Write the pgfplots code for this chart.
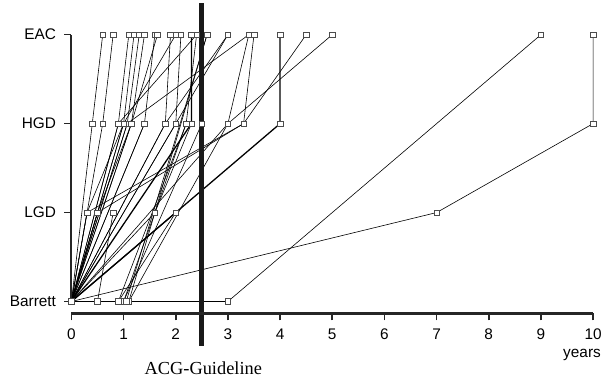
\documentclass[border=0pt]{standalone}
\usepackage{fontspec}
\setmainfont{Liberation Sans}
\newfontfamily\seriffont{Liberation Serif}
\usepackage{pgfplots}
\pgfplotsset{compat=1.18}
\begin{document}
\begin{tikzpicture}[x=1pt,y=1pt]
\begin{axis}[
 at={(0,0)}, anchor=south west,
 scale only axis, width=526pt, height=316pt,
 xmin=0, xmax=10, ymin=-0.134, ymax=3.39,
 axis x line*=bottom, axis y line*=left,
 axis line style={draw=none},
 clip=false,
 xtick={0,1,...,10}, ytick={0,1,2,3},
 yticklabels={Barrett,LGD,HGD,EAC},
 tick align=outside, major tick length=7pt,
 every tick/.style={black!85, line width=1.6pt},
 tick label style={font=\fontsize{15.5}{18}\selectfont},
 /pgf/number format/assume math mode=true,
 yticklabel style={xshift=-5pt},
 xticklabel style={yshift=-5pt},
 pt/.style={black, line width=0.6pt, mark=square*, mark size=2.8pt,
   mark options={fill=white, draw=black!70, line width=0.55pt, solid}},
]
% patients
\addplot[pt] coordinates {(0,0)(0.4,2)(0.6,3)};
\addplot[pt] coordinates {(0,0)(0.6,2)(0.8,3)};
\addplot[pt] coordinates {(0,0)(0.9,2)(1.1,3)};
\addplot[pt] coordinates {(0,0)(1.0,2)(1.2,3)};
\addplot[pt] coordinates {(0,0)(1.07,2)(1.3,3)};
\addplot[pt] coordinates {(0,0)(1.15,2)(1.4,3)};
\addplot[pt] coordinates {(0,0)(1.4,2)(1.6,3)};
\addplot[pt] coordinates {(0,0)(1.15,2)(1.65,3)};
\addplot[pt] coordinates {(0,0)(1.0,2)(2.0,3)};
\addplot[pt] coordinates {(0,0)(0.9,2)(2.4,3)};
\addplot[pt] coordinates {(0,0)(1.07,2)(3.4,3)};
\addplot[pt] coordinates {(0,0)(1.8,2)(3.0,3)};
\addplot[pt] coordinates {(0,0)(2.0,2)(3.0,3)};
\addplot[pt, line width=1.3pt] coordinates {(0,0)(2.3,2)(2.3,3)};
\addplot[pt] coordinates {(0,0)(1.8,2)(1.9,3)};
\addplot[pt] coordinates {(0,0)(2.0,2)(2.1,3)};
\addplot[pt, line width=1.3pt] coordinates {(0,0)(4,2)(4,3)};
\addplot[pt] coordinates {(0,0)(3,2)(5,3)};
\addplot[pt] coordinates {(0,0)(0.3,1)(3.3,2)(4.5,3)};
\addplot[pt] coordinates {(0,0)(0.5,1)(3.3,2)(3.5,3)};
\addplot[pt] coordinates {(0,0)(7,1)(10,2)(10,3)};
\addplot[pt] coordinates {(0,0)(3,0)(9,3)};
\addplot[pt] coordinates {(0,0)(0.5,0)(0.8,1)};
\addplot[pt, line width=1.1pt] coordinates {(0,0)(2,1)};
\addplot[pt] coordinates {(0,0)(0.3,1)(1.0,2)};
\addplot[pt] coordinates {(0,0)(0.5,1)(1.15,2)};
\addplot[pt] coordinates {(0,0)(0.9,0)(2.2,2)};
\addplot[pt] coordinates {(0,0)(1.0,0)(2.5,2)};
\addplot[pt] coordinates {(0,0)(1.1,0)(2.6,3)};
\addplot[pt] coordinates {(0,0)(1.0,0)(1.6,1)(2.3,2)};
\addplot[pt] coordinates {(0,0)(1.1,0)(3.0,2)(3.4,3)};
\addplot[pt] coordinates {(0,0)(0.9,0)(2.0,1)};
\addplot[pt] coordinates {(0,0)(1.6,1)(2.2,2)(2.4,3)};
\addplot[pt] coordinates {(0,0)(1.4,2)};
\addplot[pt] coordinates {(0,0)(1.05,0)(2.6,3)};
% ACG guideline
\addplot[black!90, line width=5pt, no markers] coordinates {(2.5,-0.5)(2.5,3.36)};
% axis lines
\draw[black!85, line width=2.2pt] (axis cs:0,-0.134) -- (axis cs:10,-0.134);
\draw[black!85, line width=2.2pt] (axis cs:0,0) -- (axis cs:0,3);
\end{axis}
\node[anchor=east, font=\fontsize{15.5}{18}\selectfont, inner sep=0pt] at (534,-42) {years};
\node[font=\seriffont\fontsize{18.5}{21}\selectfont, inner sep=0pt] at (133,-55) {ACG-Guideline};
\pgfresetboundingbox
\useasboundingbox (-72,-68) rectangle (538,316);
\end{tikzpicture}
\end{document}
